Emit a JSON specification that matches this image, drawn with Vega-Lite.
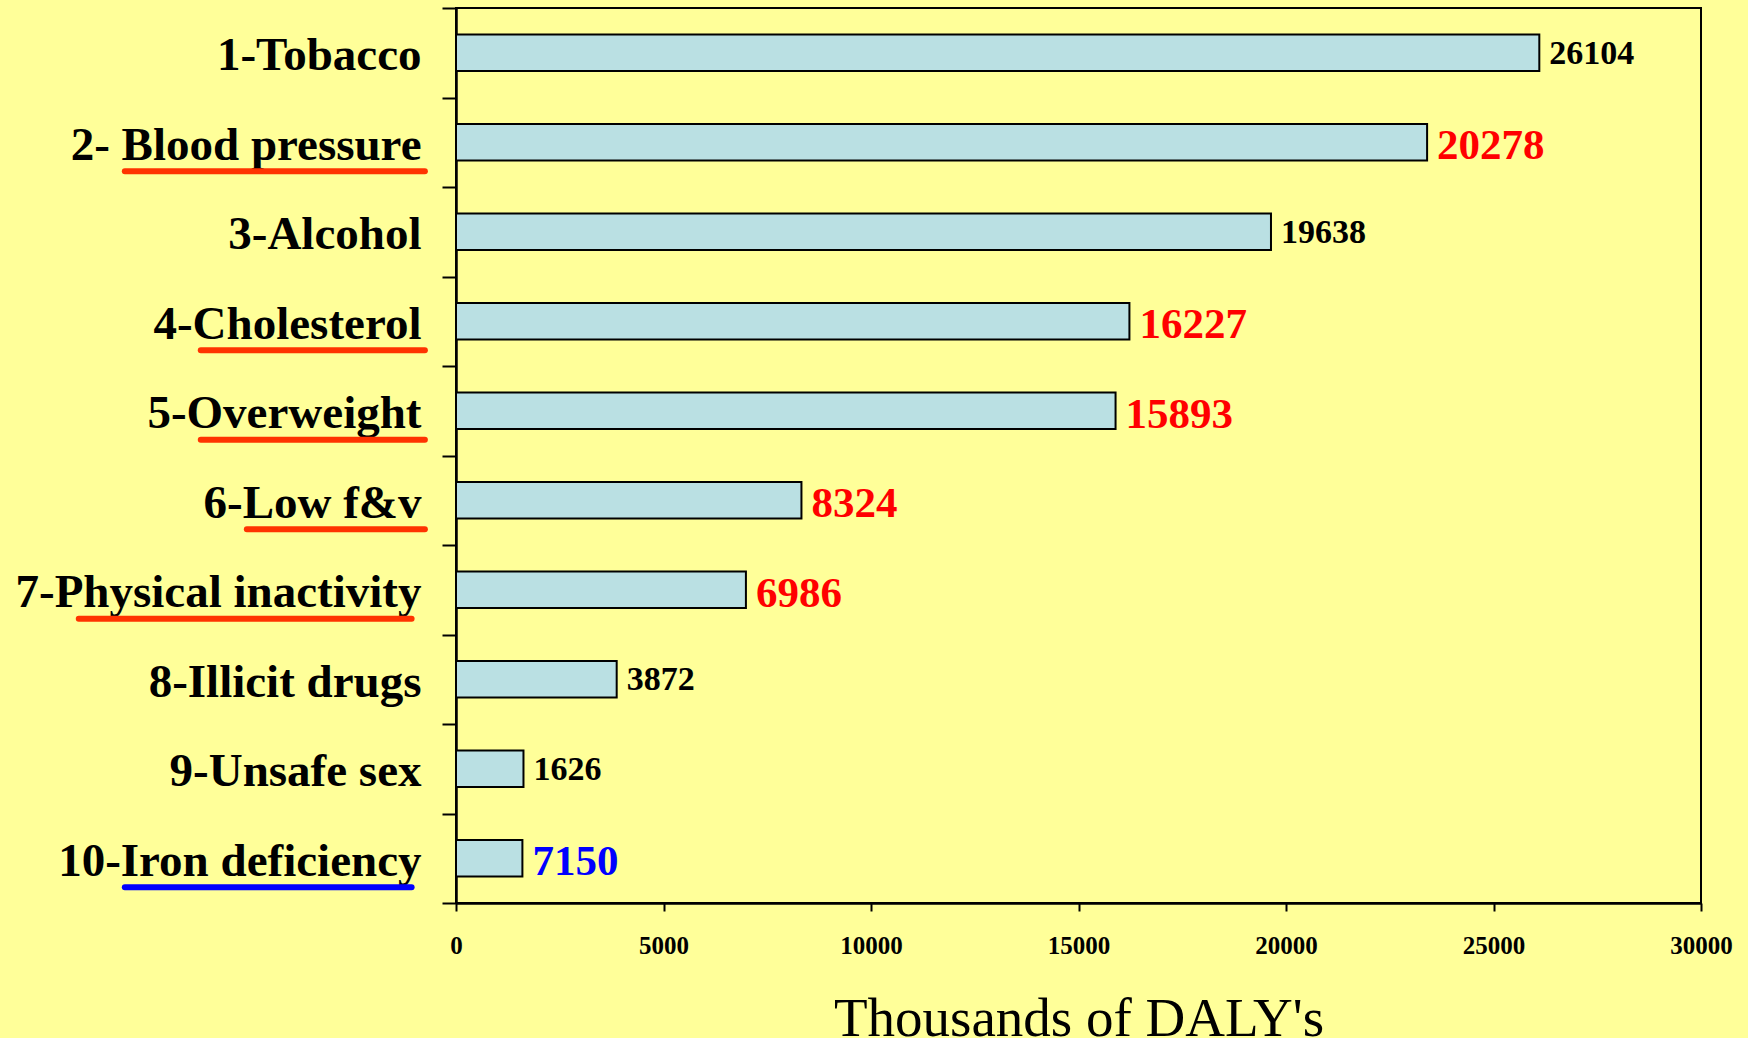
{
  "$schema": "https://vega.github.io/schema/vega-lite/v6.json",
  "width": 1245,
  "height": 895,
  "autosize": {"type": "none"},
  "padding": {"left": 456, "top": 8, "right": 47, "bottom": 135},
  "background": "#FFFF99",
  "config": {
    "font": "Liberation Serif",
    "view": {"stroke": "black", "strokeWidth": 2},
    "axisX": {
      "grid": false,
      "labelFont": "Liberation Serif",
      "labelFontSize": 25,
      "labelFontWeight": "bold",
      "labelColor": "black",
      "labelPadding": 22,
      "labelFlush": false,
      "labelOverlap": false,
      "tickSize": 8,
      "tickWidth": 2,
      "tickColor": "black",
      "domainColor": "black",
      "domainWidth": 2.5,
      "titleFont": "Liberation Serif",
      "titleFontSize": 55,
      "titleFontWeight": "normal",
      "titleColor": "black",
      "titleBaseline": "alphabetic",
      "titleY": 132
    },
    "axisY": {
      "tickBand": "extent",
      "grid": false,
      "labelFont": "Liberation Serif",
      "labelFontSize": 47,
      "labelFontWeight": "bold",
      "labelColor": "black",
      "labelPadding": 21,
      "labelOffset": 3,
      "labelLimit": 700,
      "tickSize": 14,
      "tickWidth": 2,
      "tickColor": "black",
      "domainColor": "black",
      "domainWidth": 2.5
    }
  },
  "datasets": {
    "risks": [
      {"factor": "1-Tobacco", "daly": 26104, "label": "26104", "emphasis": "none"},
      {"factor": "2- Blood pressure", "daly": 23400, "label": "20278", "emphasis": "risk"},
      {"factor": "3-Alcohol", "daly": 19638, "label": "19638", "emphasis": "none"},
      {"factor": "4-Cholesterol", "daly": 16227, "label": "16227", "emphasis": "risk"},
      {"factor": "5-Overweight", "daly": 15893, "label": "15893", "emphasis": "risk"},
      {"factor": "6-Low f&v", "daly": 8324, "label": "8324", "emphasis": "risk"},
      {"factor": "7-Physical inactivity", "daly": 6986, "label": "6986", "emphasis": "risk"},
      {"factor": "8-Illicit drugs", "daly": 3872, "label": "3872", "emphasis": "none"},
      {"factor": "9-Unsafe sex", "daly": 1626, "label": "1626", "emphasis": "none"},
      {"factor": "10-Iron deficiency", "daly": 1600, "label": "7150", "emphasis": "iron"}
    ],
    "underlines": [
      {"factor": "2- Blood pressure", "start": -7980, "end": -750, "emphasis": "risk"},
      {"factor": "4-Cholesterol", "start": -6150, "end": -750, "emphasis": "risk"},
      {"factor": "5-Overweight", "start": -6150, "end": -750, "emphasis": "risk"},
      {"factor": "6-Low f&v", "start": -5040, "end": -750, "emphasis": "risk"},
      {"factor": "7-Physical inactivity", "start": -9090, "end": -1070, "emphasis": "risk"},
      {"factor": "10-Iron deficiency", "start": -7980, "end": -1070, "emphasis": "iron"}
    ]
  },
  "layer": [
    {
      "data": {"name": "risks"},
      "mark": {"type": "bar", "fill": "#BAE0E3", "stroke": "black", "strokeWidth": 2, "height": {"band": 0.41}},
      "encoding": {
        "y": {
          "field": "factor", "type": "nominal", "sort": null,
          "scale": {
            "domain": ["1-Tobacco", "2- Blood pressure", "3-Alcohol", "4-Cholesterol", "5-Overweight", "6-Low f&v", "7-Physical inactivity", "8-Illicit drugs", "9-Unsafe sex", "10-Iron deficiency"],
            "paddingInner": 0, "paddingOuter": 0
          },
          "axis": {"title": null}
        },
        "x": {
          "field": "daly", "type": "quantitative",
          "scale": {"domain": [0, 30000], "nice": false, "zero": true},
          "axis": {"title": "Thousands of DALY's", "values": [0, 5000, 10000, 15000, 20000, 25000, 30000], "format": "d"}
        }
      }
    },
    {
      "data": {"name": "risks"},
      "transform": [{"filter": "datum.emphasis === 'none'"}],
      "mark": {"type": "text", "align": "left", "baseline": "middle", "dx": 10, "dy": 1, "font": "Liberation Serif", "fontSize": 34, "fontWeight": "bold", "fill": "black"},
      "encoding": {
        "y": {"field": "factor", "type": "nominal", "sort": null},
        "x": {"field": "daly", "type": "quantitative"},
        "text": {"field": "label"}
      }
    },
    {
      "data": {"name": "risks"},
      "transform": [{"filter": "datum.emphasis !== 'none'"}],
      "mark": {"type": "text", "align": "left", "baseline": "middle", "dx": 10, "dy": 4, "font": "Liberation Serif", "fontSize": 43, "fontWeight": "bold"},
      "encoding": {
        "y": {"field": "factor", "type": "nominal", "sort": null},
        "x": {"field": "daly", "type": "quantitative"},
        "text": {"field": "label"},
        "color": {"field": "emphasis", "type": "nominal", "scale": {"domain": ["risk", "iron"], "range": ["#FF0000", "#0000FF"]}, "legend": null}
      }
    },
    {
      "data": {"name": "underlines"},
      "mark": {"type": "rule", "strokeWidth": 6, "strokeCap": "round", "yOffset": 29},
      "encoding": {
        "y": {"field": "factor", "type": "nominal", "sort": null},
        "x": {"field": "start", "type": "quantitative"},
        "x2": {"field": "end"},
        "stroke": {"field": "emphasis", "type": "nominal", "scale": {"domain": ["risk", "iron"], "range": ["#FF3300", "#0000FF"]}, "legend": null}
      }
    }
  ]
}
